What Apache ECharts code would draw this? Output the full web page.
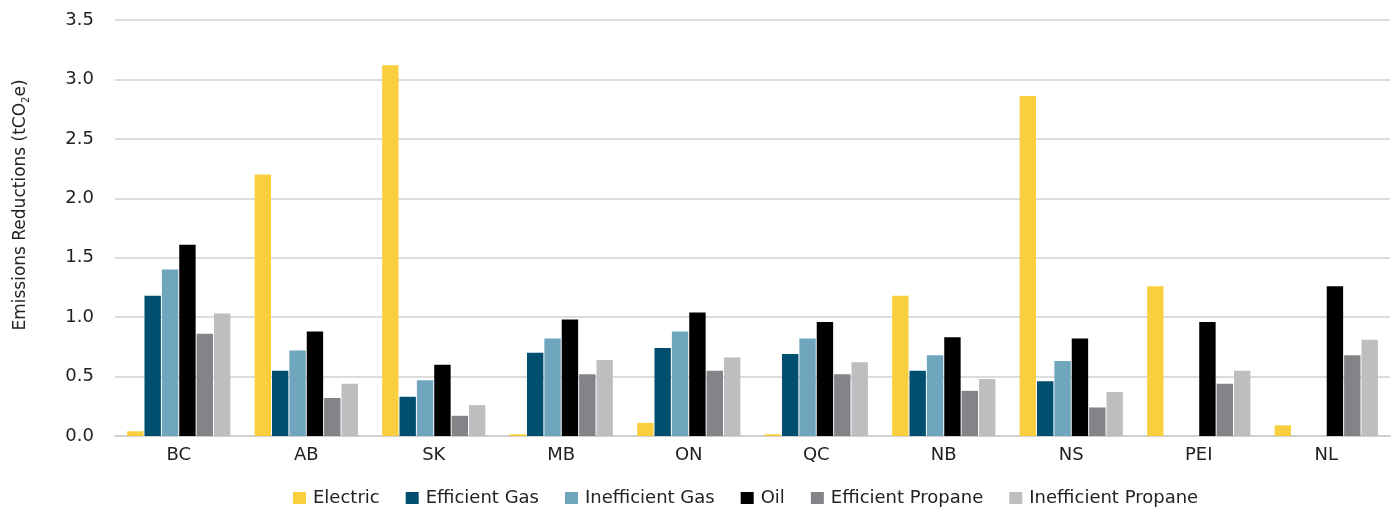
<!DOCTYPE html>
<html><head><meta charset="utf-8">
<script src="https://cdn.jsdelivr.net/npm/echarts@6/dist/echarts.min.js"></script>
<style>html,body{margin:0;padding:0;background:#fff}#c{width:1399px;height:508px}</style>
</head><body><div id="c"></div>
<script>
var categories = ['BC','AB','SK','MB','ON','QC','NB','NS','PEI','NL'];
var electric = [0.04, 2.20, 3.12, 0.015, 0.11, 0.015, 1.18, 2.86, 1.26, 0.09];
var efficientGas = [1.18, 0.55, 0.33, 0.70, 0.74, 0.69, 0.55, 0.46, 0, 0];
var inefficientGas = [1.40, 0.72, 0.47, 0.82, 0.88, 0.82, 0.68, 0.63, 0, 0];
var oil = [1.61, 0.88, 0.60, 0.98, 1.04, 0.96, 0.83, 0.82, 0.96, 1.26];
var efficientPropane = [0.86, 0.32, 0.17, 0.52, 0.55, 0.52, 0.38, 0.24, 0.44, 0.68];
var inefficientPropane = [1.03, 0.44, 0.26, 0.64, 0.66, 0.62, 0.48, 0.37, 0.55, 0.81];
var yTicks = [0, 0.5, 1.0, 1.5, 2.0, 2.5, 3.0, 3.5];

var names = ['Electric','Efficient Gas','Inefficient Gas','Oil','Efficient Propane','Inefficient Propane'];
var data = [electric, efficientGas, inefficientGas, oil, efficientPropane, inefficientPropane];
var colors = ['#F9CF40','#004F6E','#70A5BE','#000000','#838487','#BDBEC0'];
var font = 'DejaVu Sans, Verdana, sans-serif';

var series = names.map(function(n,i){
  return {name:n, type:'bar', data:data[i], barGap:'6%', barCategoryGap:'19%',
    itemStyle:{color:colors[i]}, emphasis:{disabled:true}};
});

var chart = echarts.init(document.getElementById('c'));
chart.setOption({
  animation:false,
  color:colors,
  grid:{left:115, right:9, top:20, bottom:72, containLabel:false},
  legend:{top:484, left:288, itemWidth:13, itemHeight:12, itemGap:26, icon:'rect',
    textStyle:{fontFamily:font, fontSize:18, color:'#222', padding:[0,0,0,2]}},
  graphic:[{type:'text', x:11, y:205, rotation:Math.PI/2,
    style:{text:'Emissions Reductions (tCO{s|2}e)', fontFamily:font, fontSize:17, fill:'#222',
      align:'center', verticalAlign:'top',
      rich:{s:{fontFamily:font, fontSize:10, fill:'#222', padding:[10,0,0,0]}}}}],
  xAxis:{type:'category', data:categories,
    axisLine:{lineStyle:{color:'#D0D0D0', width:2}}, axisTick:{show:false},
    axisLabel:{fontFamily:font, fontSize:18, color:'#222', margin:10}},
  yAxis:{type:'value', min:0, max:3.5, interval:0.5,
    axisLabel:{fontFamily:font, fontSize:18, color:'#222', margin:21,
      formatter:function(v){return v.toFixed(1);}},
    splitLine:{lineStyle:{color:'#D0D0D0', width:1.5}},
    axisLine:{show:false}, axisTick:{show:false}},
  series:series
});
</script></body></html>
